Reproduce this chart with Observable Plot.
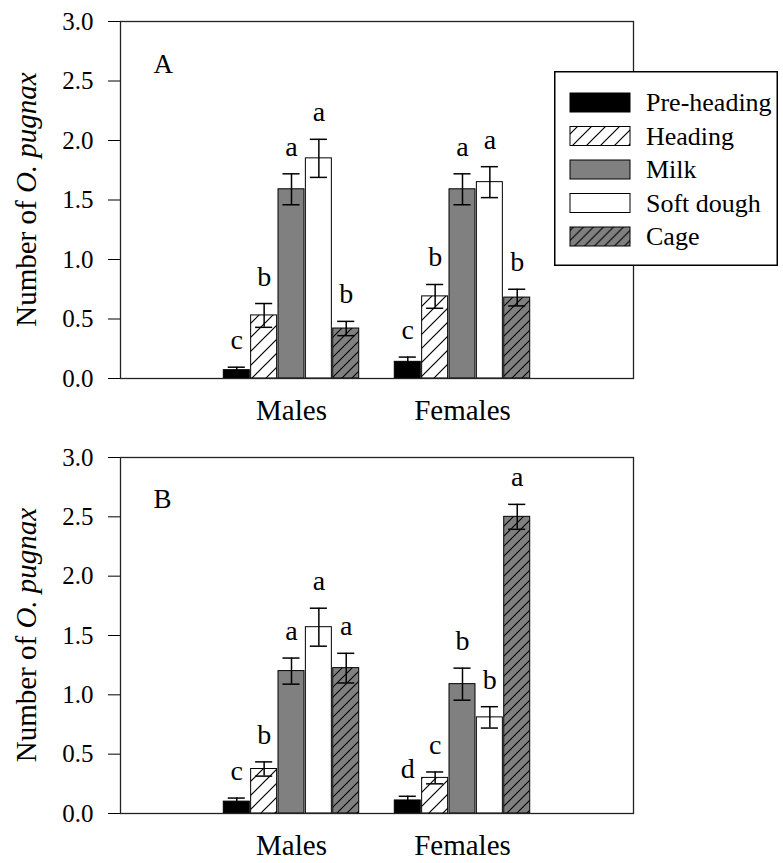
<!DOCTYPE html>
<html>
<head>
<meta charset="utf-8">
<script src="https://cdn.jsdelivr.net/npm/d3@7"></script>
<script src="https://cdn.jsdelivr.net/npm/@observablehq/plot@0.6"></script>
<style>
  body { margin: 0; background: #fff; }
  #wrap { position: relative; width: 783px; height: 863px; background: #fff; }
  #wrap svg { display: block; }
  #wrap svg text { font-family: "Liberation Serif", "Times New Roman", Times, serif; }
</style>
</head>
<body>
<svg width="0" height="0" style="position:absolute;left:0;top:0">
  <defs>
    <pattern id="hatchWhite" patternUnits="userSpaceOnUse" width="14" height="14">
      <rect width="14" height="14" fill="white"/>
      <path d="M-2,2 L2,-2 M0,14 L14,0 M12,16 L16,12" stroke="black" stroke-width="1.2"/>
    </pattern>
    <pattern id="hatchGray" patternUnits="userSpaceOnUse" width="10" height="10">
      <rect width="10" height="10" fill="#808080"/>
      <path d="M-2,2 L2,-2 M0,10 L10,0 M8,12 L12,8" stroke="black" stroke-width="1.1"/>
    </pattern>
  </defs>
</svg>
<div id="wrap"></div>
<script>
// ---- data ----
const sexes = ["Males", "Females"];
const stages = ["Pre-heading", "Heading", "Milk", "Soft dough", "Cage"];
const stageFills = ["black", "url(#hatchWhite)", "#808080", "white", "url(#hatchGray)"];
const yTicks = [0, 0.5, 1.0, 1.5, 2.0, 2.5, 3.0];

// Panel A: rows = sexes, columns = stages
const meansA = [[0.07, 0.53, 1.59, 1.85, 0.42], [0.14, 0.69, 1.59, 1.65, 0.68]];
const sesA = [[0.025, 0.10, 0.13, 0.16, 0.06], [0.04, 0.10, 0.13, 0.13, 0.07]];
const lettersA = [["c", "b", "a", "a", "b"], ["c", "b", "a", "a", "b"]];

// Panel B
const meansB = [[0.10, 0.375, 1.20, 1.57, 1.225], [0.11, 0.30, 1.09, 0.81, 2.50]];
const sesB = [[0.03, 0.06, 0.11, 0.16, 0.125], [0.035, 0.05, 0.135, 0.09, 0.105]];
const lettersB = [["c", "b", "a", "a", "a"], ["d", "c", "b", "b", "a"]];

const yLabelPlain = "Number of ";
const yLabelItalic = "O. pugnax";

// ---- layout constants ----
const barStep = 0.16;   // in x-units (group spacing = 1)
const barHalf = 0.076;
const capHalf = 0.05;
const FONT = "'Liberation Serif', 'Times New Roman', Times, serif";

function buildRows(means, ses, letters) {
  const rows = [];
  sexes.forEach((sex, gi) => {
    stages.forEach((stage, si) => {
      rows.push({
        sex, stage,
        xc: gi + 1 + (si - 2) * barStep,
        mean: means[gi][si],
        se: ses[gi][si],
        letter: letters[gi][si]
      });
    });
  });
  return rows;
}

function panel(label, means, ses, letters, cfg) {
  const rows = buildRows(means, ses, letters);
  const svg = Plot.plot({
    width: 783,
    height: cfg.height,
    marginTop: cfg.marginTop,
    marginBottom: cfg.marginBottom,
    marginLeft: 120,
    marginRight: 150,
    style: { fontFamily: FONT, fontSize: "25px", color: "black", background: "transparent", overflow: "visible" },
    x: { domain: [0, 3], axis: null },
    y: { domain: [0, 3], axis: null },
    color: { type: "ordinal", domain: stages, range: stageFills },
    marks: [
      Plot.axisY({ ticks: yTicks, tickFormat: d3.format(".1f"), tickSize: 12, tickPadding: 15, label: null, fontSize: 25, stroke: "black" }),
      Plot.axisX({ ticks: [1, 2], tickFormat: d => sexes[d - 1], tickSize: 0, tickPadding: 21, label: null, fontSize: 29 }),
      Plot.rect(rows, {
        x1: d => d.xc - barHalf, x2: d => d.xc + barHalf,
        y1: 0, y2: "mean",
        fill: "stage", stroke: "black", strokeWidth: 1
      }),
      Plot.ruleX(rows, { x: "xc", y1: d => d.mean - d.se, y2: d => d.mean + d.se, stroke: "black", strokeWidth: 1.5 }),
      Plot.ruleY(rows, { y: d => d.mean + d.se, x1: d => d.xc - capHalf, x2: d => d.xc + capHalf, stroke: "black", strokeWidth: 1.5 }),
      Plot.ruleY(rows, { y: d => d.mean - d.se, x1: d => d.xc - capHalf, x2: d => d.xc + capHalf, stroke: "black", strokeWidth: 1.5 }),
      Plot.text(rows, { x: "xc", y: d => d.mean + d.se, text: "letter", lineAnchor: "bottom", dy: -18, fontSize: 28, fill: "black" }),
      Plot.text([label], { text: d => d, frameAnchor: "top-left", textAnchor: "start", lineAnchor: "bottom", dx: 33, dy: cfg.labelDy, fontSize: 27, fill: "black" }),
      Plot.frame({ stroke: "#222", strokeWidth: 1.3 })
    ]
  });
  // y-axis title with italic species name
  const innerMid = (cfg.marginTop + (cfg.height - cfg.marginBottom)) / 2;
  const t = d3.select(svg).append("text")
    .attr("transform", `translate(36,${innerMid}) rotate(-90)`)
    .attr("text-anchor", "middle")
    .attr("font-size", 29)
    .attr("fill", "black");
  t.append("tspan").text(yLabelPlain);
  t.append("tspan").attr("font-style", "italic").text(yLabelItalic);
  return svg;
}

const wrap = document.getElementById("wrap");
wrap.appendChild(panel("A", meansA, sesA, lettersA, { height: 430, marginTop: 21, marginBottom: 52, labelDy: 51 }));
wrap.appendChild(panel("B", meansB, sesB, lettersB, { height: 433, marginTop: 27, marginBottom: 50, labelDy: 50 }));

// ---- legend (overlaid on panel A) ----
const legW = 224, legH = 195;
const leg = d3.select(wrap).append("svg")
  .attr("width", legW).attr("height", legH)
  .style("position", "absolute").style("left", "554px").style("top", "71px");
leg.append("rect").attr("x", 0.75).attr("y", 0.75).attr("width", legW - 1.5).attr("height", legH - 1.5)
  .attr("fill", "white").attr("stroke", "black").attr("stroke-width", 1.5);
const items = leg.selectAll("g.item").data(stages).join("g")
  .attr("transform", (d, i) => `translate(0,${31.5 + i * 33.5})`);
items.append("rect").attr("x", 16).attr("y", -9.5).attr("width", 60).attr("height", 19)
  .attr("fill", (d, i) => stageFills[i]).attr("stroke", "black").attr("stroke-width", 1);
items.append("text").attr("x", 92).attr("y", 0).attr("dy", "0.33em")
  .attr("font-size", 26).attr("fill", "black")
  .text(d => d);
</script>
</body>
</html>
